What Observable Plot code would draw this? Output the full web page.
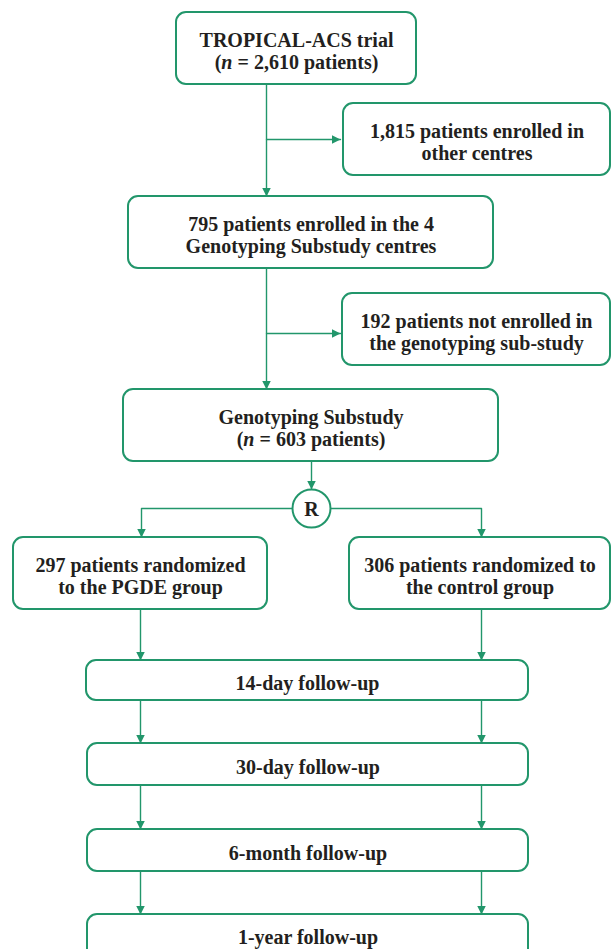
<!DOCTYPE html>
<html>
<head>
<meta charset="utf-8">
<script src="https://cdn.jsdelivr.net/npm/d3@7"></script>
<script src="https://cdn.jsdelivr.net/npm/@observablehq/plot@0.6"></script>
<style>
  html, body { margin: 0; padding: 0; background: #fff; overflow: hidden; }
  svg { display: block; overflow: hidden; }
</style>
</head>
<body>
<div id="chart"></div>
<script>
// ---- Content ----
const labels = [
  "TROPICAL-ACS trial\n(n = 2,610 patients)",
  "1,815 patients enrolled in\nother centres",
  "795 patients enrolled in the 4\nGenotyping Substudy centres",
  "192 patients not enrolled in\nthe genotyping sub-study",
  "Genotyping Substudy\n(n = 603 patients)",
  "297 patients randomized\nto the PGDE group",
  "306 patients randomized to\nthe control group",
  "14-day follow-up",
  "30-day follow-up",
  "6-month follow-up",
  "1-year follow-up"
];
const randomLabel = "R";

// ---- Layout (pixel units of the 611x949 canvas) ----
const boxX1 = [176, 343, 128, 342, 123, 13, 349, 86, 87, 87, 87];
const boxX2 = [416, 610, 493, 610, 498, 267, 610, 528, 528, 528, 528];
const boxY1 = [12, 103, 196, 293, 389, 537, 537, 660, 743, 829, 914];
const boxY2 = [84, 175, 268, 365, 461, 609, 609, 700, 785, 871, 965];

const circleX = [311], circleY = [508];

// connectors: [series id, x, y]
const connId = ["a","a","b","b","c","c","d","d","e","e","f","f","f","g","g","g",
                "h","h","i","i","j","j","k","k","l","l","m","m","n","n","o","o"];
const connX  = [266,266, 266,340, 266,266, 266,340, 311,311, 292,141,141, 330,481,481,
                140,140, 481,481, 140,140, 481,481, 140,140, 481,481, 140,140, 481,481];
const connY  = [84,196, 139,139, 268,389, 333,333, 461,489, 508,508,537, 508,508,537,
                609,660, 609,660, 700,743, 700,743, 785,829, 785,829, 871,914, 871,914];

const green = "#22966b";
const ink = "#231f20";

const boxes = labels.map((t, i) => ({
  label: t, x1: boxX1[i], x2: boxX2[i], y1: boxY1[i], y2: boxY2[i],
  cx: (boxX1[i] + boxX2[i]) / 2, cy: (boxY1[i] + boxY2[i]) / 2 + 2
}));
boxes[10].cy = 936;
const conns = connId.map((id, i) => ({id, x: connX[i], y: connY[i]}));

const W = 611, H = 949;
const chart = Plot.plot({
  width: W, height: H,
  margin: 0,
  x: {domain: [0, W], range: [0, W], axis: null},
  y: {domain: [0, H], range: [0, H], axis: null},
  style: {background: "#fff", overflow: "hidden"},
  marks: [
    Plot.line(conns, {x: "x", y: "y", z: "id", stroke: green, strokeWidth: 1.4, curve: "linear"}),
    Plot.rect(boxes, {x1: "x1", x2: "x2", y1: "y1", y2: "y2", rx: 10, fill: "#fff",
                      stroke: green, strokeWidth: 2}),
    Plot.dot(circleX.map((x, i) => ({x, y: circleY[i]})), {x: "x", y: "y", r: 19,
                      fill: "#fff", stroke: green, strokeWidth: 2}),
    Plot.text(boxes, {x: "cx", y: "cy", text: "label", fill: ink, fontSize: 20,
                      fontWeight: "bold", fontFamily: "Liberation Serif, Times New Roman, serif",
                      lineHeight: 1.1, lineAnchor: "middle", textAnchor: "middle"}),
    Plot.text([randomLabel], {x: () => circleX[0], y: () => circleY[0] + 1, text: d => d,
                      fill: ink, fontSize: 20, fontWeight: "bold",
                      fontFamily: "Liberation Serif, Times New Roman, serif"})
  ]
});
document.getElementById("chart").appendChild(chart);

// Filled triangular arrowheads
const svg = d3.select(chart);
const defs = svg.insert("defs", ":first-child");
defs.append("marker")
  .attr("id", "tri").attr("viewBox", "0 0 10 10")
  .attr("refX", 10).attr("refY", 5)
  .attr("markerWidth", 9).attr("markerHeight", 9)
  .attr("markerUnits", "userSpaceOnUse").attr("orient", "auto")
  .append("path").attr("d", "M0,0L10,5L0,10Z").attr("fill", green);
svg.selectAll('g[aria-label="line"] path').attr("marker-end", "url(#tri)");

// Italic "n"
svg.selectAll("tspan").each(function() {
  const t = this.textContent;
  if (t.startsWith("(n = ")) {
    const el = d3.select(this);
    el.text("(");
    el.append("tspan").attr("font-style", "italic").text("n");
    el.append("tspan").text(t.slice(2));
  }
});
</script>
</body>
</html>
